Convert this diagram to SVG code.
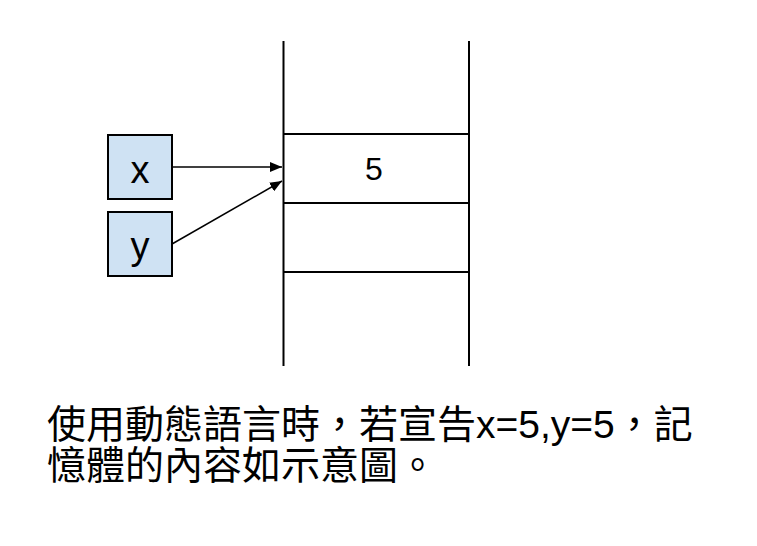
<svg xmlns="http://www.w3.org/2000/svg" width="757" height="546" viewBox="0 0 757 546">
<style>
.box{fill:#cfe2f3;stroke:#000;stroke-width:2}
.ln{stroke:#000;stroke-width:2;fill:none}
.lbl{font-family:"Liberation Sans",Arial,sans-serif;fill:#000;text-anchor:middle}
.cap{font-family:"Liberation Sans","Noto Sans CJK TC",sans-serif;font-size:39px;fill:#000}
.conn{stroke:#000;stroke-width:1.5;fill:none}
</style>
<defs>
<marker id="ah" viewBox="0 0 12 10" refX="12" refY="5" markerWidth="12" markerHeight="10" markerUnits="userSpaceOnUse" orient="auto">
<path d="M0,0 L12,5 L0,10 z" fill="#000"/>
</marker>
</defs>
<rect width="757" height="546" fill="#fff"/>
<g id="memory">
<line class="ln" x1="283.5" y1="41" x2="283.5" y2="366"/>
<line class="ln" x1="469" y1="41" x2="469" y2="366"/>
<line class="ln" x1="283.5" y1="134" x2="469" y2="134"/>
<line class="ln" x1="283.5" y1="203" x2="469" y2="203"/>
<line class="ln" x1="283.5" y1="272" x2="469" y2="272"/>
<text class="lbl" x="374" y="180" font-size="32">5</text>
</g>
<g id="node-x">
<rect class="box" x="108" y="135" width="64" height="64"/>
<text class="lbl" x="140" y="183" font-size="38">x</text>
</g>
<g id="node-y">
<rect class="box" x="108" y="212" width="64" height="64"/>
<text class="lbl" x="140" y="259" font-size="38">y</text>
</g>
<g id="connectors">
<line class="conn" x1="172" y1="167" x2="282" y2="167" marker-end="url(#ah)"/>
<line class="conn" x1="172" y1="244" x2="282" y2="181" marker-end="url(#ah)"/>
</g>
<g id="caption">
<text class="cap" x="47" y="438">使用動態語言時，若宣告x=5,y=5，記</text>
<text class="cap" x="47" y="479">憶體的內容如示意圖。</text>
</g>
</svg>
